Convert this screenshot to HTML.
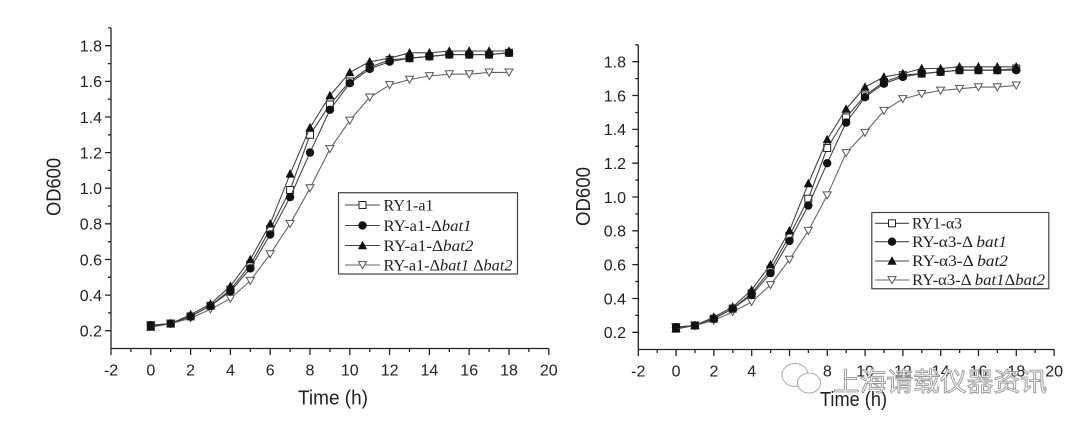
<!DOCTYPE html>
<html><head><meta charset="utf-8"><style>
html,body{margin:0;padding:0;background:#fff;}
svg{display:block;}
.t{font-family:"Liberation Sans",Arial,sans-serif;fill:#222;}
.lg{font-family:"Liberation Serif","Times New Roman",serif;fill:#222;font-size:16px;}
</style></head><body>
<svg width="1080" height="427" viewBox="0 0 1080 427" xmlns="http://www.w3.org/2000/svg">
<defs>
<marker id="msq" markerUnits="userSpaceOnUse" markerWidth="10" markerHeight="10" refX="5" refY="5" viewBox="0 0 10 10" overflow="visible"><rect x="1.5" y="1.5" width="7" height="7" fill="#fff" stroke="#222" stroke-width="1"/></marker>
<marker id="mci" markerUnits="userSpaceOnUse" markerWidth="10" markerHeight="10" refX="5" refY="5" viewBox="0 0 10 10" overflow="visible"><circle cx="5" cy="5" r="4.2" fill="#111"/></marker>
<marker id="mtu" markerUnits="userSpaceOnUse" markerWidth="10" markerHeight="10" refX="5" refY="5" viewBox="0 0 10 10" overflow="visible"><path d="M5,0.2 L9.6,8.7 L0.4,8.7Z" fill="#111"/></marker>
<marker id="mtd" markerUnits="userSpaceOnUse" markerWidth="10" markerHeight="10" refX="5" refY="5" viewBox="0 0 10 10" overflow="visible"><path d="M1,1.6 L9,1.6 L5,8.6Z" fill="#fff" stroke="#555" stroke-width="1"/></marker>
</defs>
<rect width="1080" height="427" fill="#fff"/>

<!-- ================= LEFT CHART ================= -->
<g stroke="#222" stroke-width="1.3" fill="none">
<path d="M111,27.9 V348.5 H548.8"/>
<path d="M105,330.7H111M105,295.1H111M105,259.5H111M105,223.8H111M105,188.2H111M105,152.6H111M105,117H111M105,81.4H111M105,45.7H111"/>
<path d="M108,312.9H111M108,277.3H111M108,241.7H111M108,206H111M108,170.4H111M108,134.8H111M108,99.2H111M108,63.6H111M108,27.9H111"/>
<path d="M111,348.5V355M150.8,348.5V355M190.6,348.5V355M230.4,348.5V355M270.2,348.5V355M310,348.5V355M349.8,348.5V355M389.6,348.5V355M429.4,348.5V355M469.2,348.5V355M509,348.5V355M548.8,348.5V355"/>
<path d="M130.9,348.5V352M170.7,348.5V352M210.5,348.5V352M250.3,348.5V352M290.1,348.5V352M329.9,348.5V352M369.7,348.5V352M409.5,348.5V352M449.3,348.5V352M489.1,348.5V352M528.9,348.5V352"/>
</g>
<g class="t" font-size="16" text-anchor="end">
<text x="102" y="51.5">1.8</text><text x="102" y="87.2">1.6</text><text x="102" y="122.8">1.4</text><text x="102" y="158.4">1.2</text><text x="102" y="194">1.0</text><text x="102" y="229.6">0.8</text><text x="102" y="265.3">0.6</text><text x="102" y="300.9">0.4</text><text x="102" y="336.5">0.2</text>
</g>
<g class="t" font-size="16" text-anchor="middle">
<text x="111" y="375.5">-2</text><text x="150.8" y="375.5">0</text><text x="190.6" y="375.5">2</text><text x="230.4" y="375.5">4</text><text x="270.2" y="375.5">6</text><text x="310" y="375.5">8</text><text x="349.8" y="375.5">10</text><text x="389.6" y="375.5">12</text><text x="429.4" y="375.5">14</text><text x="469.2" y="375.5">16</text><text x="509" y="375.5">18</text><text x="548.8" y="375.5">20</text>
</g>
<text class="t" x="298" y="404.5" font-size="20" textLength="70" lengthAdjust="spacingAndGlyphs">Time (h)</text>
<text class="t" transform="translate(60.7,216) rotate(-90)" x="0" y="0" font-size="20" textLength="58" lengthAdjust="spacingAndGlyphs">OD600</text>

<g fill="none" stroke-width="1.1">
<polyline stroke="#666" marker-start="url(#mtd)" marker-mid="url(#mtd)" marker-end="url(#mtd)" points="150.8,325.3 170.7,323.6 190.6,318.2 210.5,309.3 230.4,298.6 250.3,280.8 270.2,254.1 290.1,223.8 310,188.2 329.9,149 349.8,120.5 369.7,97.4 389.6,85 409.5,79.6 429.4,76 449.3,74.2 469.2,74.2 489.1,72.4 509,72.4"/>
<polyline stroke="#444" marker-start="url(#msq)" marker-mid="url(#msq)" marker-end="url(#msq)" points="150.8,325.3 170.7,323.6 190.6,316.4 210.5,305.8 230.4,289.7 250.3,264.8 270.2,229.2 290.1,190 310,134.8 329.9,104.5 349.8,81.4 369.7,67.1 389.6,59.9 409.5,58.2 429.4,56.4 449.3,54.6 469.2,54.6 489.1,54.6 509,52.8"/>
<polyline stroke="#444" marker-start="url(#mci)" marker-mid="url(#mci)" marker-end="url(#mci)" points="150.8,325.3 170.7,323.6 190.6,316.4 210.5,305.8 230.4,291.5 250.3,268.4 270.2,234.5 290.1,197.1 310,152.6 329.9,109.8 349.8,83.2 369.7,68.9 389.6,61.7 409.5,58.2 429.4,56.4 449.3,54.6 469.2,54.6 489.1,54.6 509,52.8"/>
<polyline stroke="#444" marker-start="url(#mtu)" marker-mid="url(#mtu)" marker-end="url(#mtu)" points="150.8,327.1 170.7,323.6 190.6,314.6 210.5,304 230.4,286.2 250.3,259.5 270.2,223.8 290.1,173.9 310,127.7 329.9,95.6 349.8,72.4 369.7,61.7 389.6,58.2 409.5,52.8 429.4,52.8 449.3,51 469.2,51 489.1,51 509,51"/>
</g>

<!-- left legend -->
<rect x="338.5" y="192.7" width="179" height="81.3" fill="#fff" stroke="#444" stroke-width="1.2"/>
<g fill="none" stroke-width="1.1">
<polyline stroke="#444" marker-mid="url(#msq)" points="345,205 362.5,205 380,205"/>
<polyline stroke="#444" marker-mid="url(#mci)" points="345,225.5 362.5,225.5 380,225.5"/>
<polyline stroke="#444" marker-mid="url(#mtu)" points="345,245.5 362.5,245.5 380,245.5"/>
<polyline stroke="#666" marker-mid="url(#mtd)" points="345,265 362.5,265 380,265"/>
</g>
<text class="lg" x="383.5" y="210.5" textLength="50" lengthAdjust="spacingAndGlyphs">RY1-a1</text>
<text class="lg" x="383.5" y="231" textLength="88" lengthAdjust="spacingAndGlyphs">RY-a1-Δ<tspan font-style="italic">bat1</tspan></text>
<text class="lg" x="383.5" y="251" textLength="90" lengthAdjust="spacingAndGlyphs">RY-a1-Δ<tspan font-style="italic">bat2</tspan></text>
<text class="lg" x="383.5" y="270.5" textLength="129" lengthAdjust="spacingAndGlyphs">RY-a1-Δ<tspan font-style="italic">bat1</tspan> Δ<tspan font-style="italic">bat2</tspan></text>

<!-- ================= RIGHT CHART ================= -->
<g stroke="#222" stroke-width="1.3" fill="none">
<path d="M638.3,44.8 V349.5 H1054.1"/>
<path d="M632.3,332.3H638.3M632.3,298.5H638.3M632.3,264.6H638.3M632.3,230.8H638.3M632.3,197H638.3M632.3,163.2H638.3M632.3,129.4H638.3M632.3,95.5H638.3M632.3,61.7H638.3"/>
<path d="M635.3,315.4H638.3M635.3,281.5H638.3M635.3,247.7H638.3M635.3,213.9H638.3M635.3,180.1H638.3M635.3,146.3H638.3M635.3,112.5H638.3M635.3,78.6H638.3M635.3,44.8H638.3"/>
<path d="M638.3,349.5V356M676.1,349.5V356M713.9,349.5V356M751.7,349.5V356M789.5,349.5V356M827.3,349.5V356M865.1,349.5V356M902.9,349.5V356M940.7,349.5V356M978.5,349.5V356M1016.3,349.5V356M1054.1,349.5V356"/>
<path d="M657.2,349.5V353M695,349.5V353M732.8,349.5V353M770.6,349.5V353M808.4,349.5V353M846.2,349.5V353M884,349.5V353M921.8,349.5V353M959.6,349.5V353M997.4,349.5V353M1035.2,349.5V353"/>
</g>
<g class="t" font-size="16" text-anchor="end">
<text x="626" y="67.5">1.8</text><text x="626" y="101.3">1.6</text><text x="626" y="135.2">1.4</text><text x="626" y="169">1.2</text><text x="626" y="202.8">1.0</text><text x="626" y="236.6">0.8</text><text x="626" y="270.4">0.6</text><text x="626" y="304.3">0.4</text><text x="626" y="338.1">0.2</text>
</g>
<g class="t" font-size="16" text-anchor="middle">
<text x="638.3" y="376.5">-2</text><text x="676.1" y="376.5">0</text><text x="713.9" y="376.5">2</text><text x="751.7" y="376.5">4</text><text x="789.5" y="376.5">6</text><text x="827.3" y="376.5">8</text><text x="865.1" y="376.5">10</text><text x="902.9" y="376.5">12</text><text x="940.7" y="376.5">14</text><text x="978.5" y="376.5">16</text><text x="1016.3" y="376.5">18</text><text x="1054.1" y="376.5">20</text>
</g>
<text class="t" x="820" y="406" font-size="20" textLength="67" lengthAdjust="spacingAndGlyphs">Time (h)</text>
<text class="t" transform="translate(590,226) rotate(-90)" x="0" y="0" font-size="20" textLength="59" lengthAdjust="spacingAndGlyphs">OD600</text>

<g fill="none" stroke-width="1.1">
<polyline stroke="#666" marker-start="url(#mtd)" marker-mid="url(#mtd)" marker-end="url(#mtd)" points="676,327.2 694.9,325.5 713.8,320.5 732.7,312 751.6,301.9 770.5,285 789.4,259.6 808.3,230.8 827.2,195.3 846.1,153 865,132.8 883.9,110.8 902.8,99 921.7,93.9 940.6,90.5 959.5,88.8 978.4,87.1 997.3,87.1 1016.2,85.4"/>
<polyline stroke="#444" marker-start="url(#msq)" marker-mid="url(#msq)" marker-end="url(#msq)" points="676,327.2 694.9,325.5 713.8,318.7 732.7,308.6 751.6,293.4 770.5,269.7 789.4,235.9 808.3,198.7 827.2,148 846.1,117.5 865,95.5 883.9,82 902.8,75.2 921.7,73.6 940.6,71.9 959.5,70.2 978.4,70.2 997.3,70.2 1016.2,68.5"/>
<polyline stroke="#444" marker-start="url(#mci)" marker-mid="url(#mci)" marker-end="url(#mci)" points="676,327.2 694.9,325.5 713.8,318.7 732.7,308.6 751.6,295.1 770.5,273.1 789.4,241 808.3,205.5 827.2,163.2 846.1,122.6 865,97.2 883.9,83.7 902.8,76.9 921.7,73.6 940.6,71.9 959.5,70.2 978.4,70.2 997.3,70.2 1016.2,70.2"/>
<polyline stroke="#444" marker-start="url(#mtu)" marker-mid="url(#mtu)" marker-end="url(#mtu)" points="676,328.9 694.9,325.5 713.8,317.1 732.7,306.9 751.6,290 770.5,264.6 789.4,230.8 808.3,183.5 827.2,139.5 846.1,109.1 865,87.1 883.9,76.9 902.8,73.6 921.7,68.5 940.6,68.5 959.5,66.8 978.4,66.8 997.3,66.8 1016.2,66.8"/>
</g>

<!-- right legend -->
<rect x="871.8" y="212.5" width="177" height="76.2" fill="#fff" stroke="#444" stroke-width="1.2"/>
<g fill="none" stroke-width="1.1">
<polyline stroke="#444" marker-mid="url(#msq)" points="875,223.3 892,223.3 909,223.3"/>
<polyline stroke="#444" marker-mid="url(#mci)" points="875,241.7 892,241.7 909,241.7"/>
<polyline stroke="#444" marker-mid="url(#mtu)" points="875,261 892,261 909,261"/>
<polyline stroke="#666" marker-mid="url(#mtd)" points="875,280 892,280 909,280"/>
</g>
<text class="lg" x="912" y="228.5" textLength="50" lengthAdjust="spacingAndGlyphs">RY1-α3</text>
<text class="lg" x="912" y="247" textLength="95" lengthAdjust="spacingAndGlyphs">RY-α3-Δ <tspan font-style="italic">bat1</tspan></text>
<text class="lg" x="912" y="266" textLength="96" lengthAdjust="spacingAndGlyphs">RY-α3-Δ <tspan font-style="italic">bat2</tspan></text>
<text class="lg" x="912" y="285" textLength="133" lengthAdjust="spacingAndGlyphs">RY-α3-Δ <tspan font-style="italic">bat1</tspan>Δ<tspan font-style="italic">bat2</tspan></text>

<!-- watermark -->
<g fill="#fff" stroke="#aaa" stroke-width="1">
<ellipse cx="795" cy="375" rx="13" ry="11.5"/>
<ellipse cx="809" cy="383" rx="11.5" ry="10"/>
</g>
<text x="833" y="391" font-family="'Liberation Sans','Noto Sans CJK SC',sans-serif" font-size="26" fill="#fff" stroke="#999" stroke-width="0.9" textLength="214" lengthAdjust="spacingAndGlyphs">上海请载仪器资讯</text>
</svg>
</body></html>
